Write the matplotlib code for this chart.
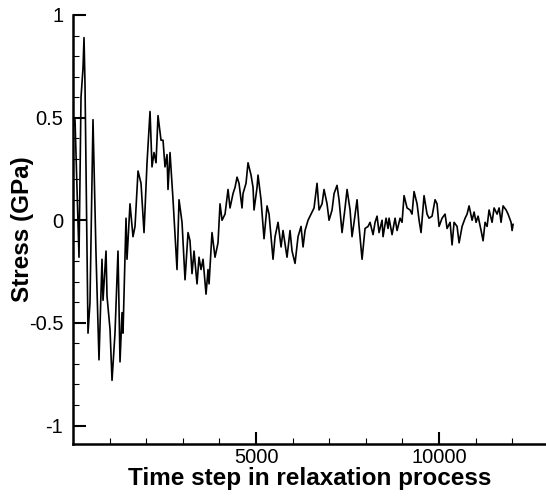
#!/usr/bin/env python3
#
# Stress relaxation curve
#

import matplotlib
matplotlib.use('Agg')
import matplotlib.pyplot as plt
from matplotlib.ticker import MultipleLocator

# values
time_step = [0, 55, 164, 219, 273, 301, 328, 410, 464, 546, 628, 710, 792, 820,
             902, 929, 1011, 1066, 1147, 1229, 1284, 1339, 1366, 1448, 1475, 1557,
             1639, 1694, 1776, 1858, 1940, 2022, 2104, 2158, 2213, 2268, 2322, 2404,
             2459, 2513, 2568, 2595, 2650, 2732, 2841, 2896, 2978, 3060, 3142, 3196,
             3251, 3306, 3388, 3442, 3497, 3552, 3634, 3688, 3716, 3797, 3879, 3961,
             4016, 4071, 4153, 4235, 4289, 4371, 4426, 4481, 4535, 4617, 4644, 4726,
             4781, 4863, 4918, 4945, 5027, 5054, 5136, 5218, 5300, 5355, 5464, 5519,
             5601, 5683, 5737, 5846, 5928, 5983, 6065, 6147, 6229, 6284, 6338, 6420,
             6502, 6584, 6666, 6721, 6803, 6857, 6939, 6994, 7076, 7131, 7212, 7267,
             7349, 7431, 7486, 7568, 7622, 7677, 7759, 7814, 7896, 7977, 8059, 8114,
             8196, 8251, 8305, 8360, 8442, 8469, 8551, 8606, 8633, 8715, 8797, 8852,
             8934, 8988, 9043, 9125, 9207, 9261, 9316, 9398, 9453, 9507, 9589, 9671,
             9726, 9808, 9890, 9944, 9999, 10081, 10163, 10218, 10300, 10354, 10409,
             10491, 10546, 10628, 10710, 10764, 10819, 10901, 10956, 11010, 11065,
             11147, 11201, 11256, 11311, 11365, 11447, 11502, 11584, 11639, 11693,
             11748, 11830, 11884, 11966, 11994, 12021]
stress = [0.45, 0.49, -0.18, 0.6, 0.74, 0.89, 0.66, -0.55, -0.40, 0.49, -0.16, -0.68,
          -0.19, -0.39, -0.15, -0.37, -0.53, -0.78, -0.55, -0.15, -0.69, -0.45, -0.55,
          0.01, -0.19, 0.08, -0.08, -0.03, 0.24, 0.18, -0.06, 0.28, 0.53, 0.26, 0.33,
          0.28, 0.51, 0.39, 0.39, 0.26, 0.32, 0.15, 0.33, 0.10, -0.24, 0.10, -0.01,
          -0.29, -0.06, -0.10, -0.26, -0.15, -0.31, -0.18, -0.24, -0.19, -0.36, -0.24,
          -0.31, -0.06, -0.18, -0.11, 0.08, 0.0, 0.03, 0.15, 0.06, 0.13, 0.16, 0.21,
          0.18, 0.06, 0.13, 0.18, 0.28, 0.22, 0.16, 0.05, 0.16, 0.22, 0.10, -0.09,
          0.07, 0.03, -0.19, -0.08, -0.01, -0.13, -0.05, -0.18, -0.05, -0.15, -0.21,
          -0.08, -0.03, -0.13, -0.05, 0.0, 0.03, 0.06, 0.18, 0.05, 0.08, 0.15, 0.08,
          0.0, 0.05, 0.13, 0.17, 0.10, -0.06, 0.06, 0.15, 0.05, -0.08, -0.01, 0.10,
          -0.03, -0.19, -0.04, -0.03, -0.01, -0.07, -0.01, 0.02, -0.06, 0.0, -0.08,
          0.01, -0.04, 0.01, -0.07, 0.01, -0.05, 0.01, -0.01, 0.12, 0.06, 0.05, 0.03,
          0.14, 0.08, 0.0, -0.06, 0.12, 0.03, 0.01, 0.02, 0.10, 0.08, -0.03, 0.01,
          0.03, -0.04, -0.01, -0.12, -0.01, -0.03, -0.11, -0.03, 0.01, 0.03, 0.07,
          0.0, 0.04, -0.01, 0.02, -0.05, -0.10, -0.01, -0.03, 0.05, -0.01, 0.06, 0.03,
          0.06, -0.01, 0.07, 0.05, 0.03, -0.01, -0.05, -0.02]

plt.rcParams['font.family'] = ['Liberation Sans', 'DejaVu Sans']

fig = plt.figure(figsize=(5.46, 5.0), dpi=100)
ax = fig.add_axes([73 / 546, 56 / 500, 473 / 546, 429 / 500])

ax.plot(time_step, stress, '-', color='black', linewidth=1.2)

ax.set_xlim(0, 12920)
ax.set_ylim(-1.09, 1.0)
ax.xaxis.set_minor_locator(MultipleLocator(1000))
ax.yaxis.set_minor_locator(MultipleLocator(0.1))
ax.set_xticks([5000, 10000])
ax.set_xticklabels(['5000', '10000'])
ax.set_yticks([-1, -0.5, 0, 0.5, 1])
ax.set_yticklabels(['-1', '-0.5', '0', '0.5', '1'])

for side in ('top', 'right'):
    ax.spines[side].set_visible(False)
for side in ('left', 'bottom'):
    ax.spines[side].set_linewidth(1.8)

ax.tick_params(which='major', direction='in', length=9, width=1.5, labelsize=14.5)
ax.tick_params(axis='y', which='major', pad=7)
ax.tick_params(axis='x', which='major', pad=3)
ax.tick_params(which='minor', direction='in', length=4.5, width=0.8)

ax.set_xlabel('Time step in relaxation process', fontsize=17.5, fontweight='bold',
              labelpad=0)
ax.set_ylabel('Stress (GPa)', fontsize=17.5, fontweight='bold', labelpad=-4)

plt.savefig('out.png')
